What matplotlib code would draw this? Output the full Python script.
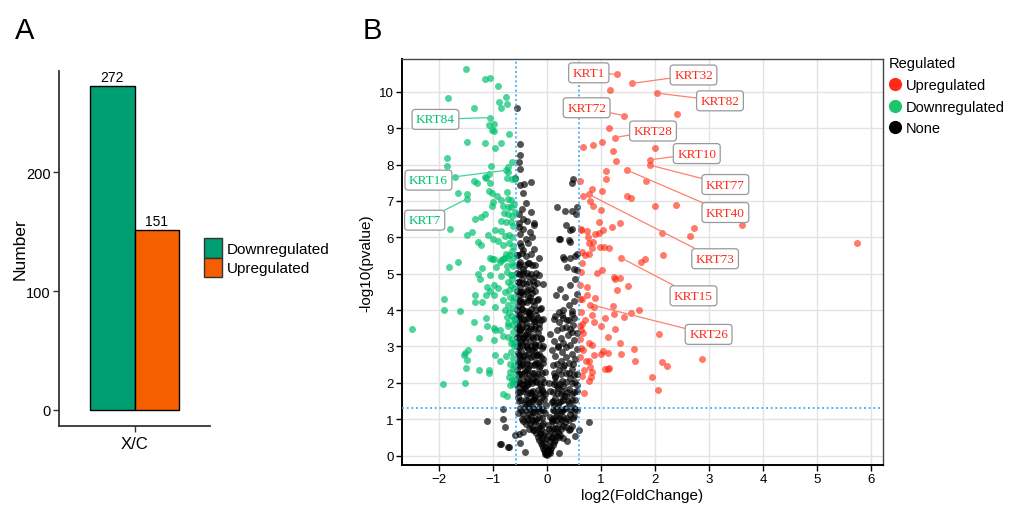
import matplotlib
matplotlib.use("Agg")
import matplotlib.pyplot as plt
from matplotlib.patches import Patch
from matplotlib.lines import Line2D

plt.rcParams['font.family'] = ['Liberation Sans', 'DejaVu Sans']

# ---------------- Panel A data ----------------
bar_groups = ["Downregulated", "Upregulated"]
bar_counts = [272, 151]
bar_colors = ["#009E73", "#F55F00"]
bar_category = "X/C"

# ---------------- Panel B data ----------------
down_x = [-1.51,-1.16,-1.06,-0.92,-1.83,-0.90,-0.76,-0.85,-0.75,-1.36,-1.06,-1.07,-0.98,-1.03,-0.98,-0.70,-1.49,-1.15,-0.96,-0.85,
          -1.85,-1.85,-1.04,-0.66,-0.77,-0.73,-0.72,-1.07,-1.16,-1.14,-1.70,-1.36,-1.30,-0.75,-0.65,-0.59,-1.06,-1.08,-1.03,-0.75,
          -0.93,-1.65,-1.49,-1.48,-1.01,-0.85,-0.73,-0.67,-0.82,-0.72,-0.67,-0.62,-1.03,-0.80,-0.73,-0.65,-1.15,-1.22,-1.33,-0.86,
          -0.77,-0.68,-0.64,-1.80,-1.49,-1.40,-1.10,-0.96,-0.86,-0.79,-0.70,-1.00,-0.92,-0.65,-1.29,-1.23,-0.81,-0.70,-1.65,-1.06,
          -0.80,-0.71,-0.65,-0.86,
          -1.82,-1.29,-1.21,-1.25,-1.06,-1.03,-0.98,-0.88,-0.82,-0.72,-0.76,-0.94,-0.85,-0.75,-0.72,-0.65,-0.98,-0.92,-1.12,-1.06,
          -1.14,-1.34,-1.92,-1.92,-1.62,-1.33,-1.21,-0.98,-0.96,-0.78,-0.69,-0.81,-0.73,-0.79,-0.70,-0.64,-0.75,-0.65,-1.14,-1.36,
          -2.51,-1.26,-1.12,-0.98,-0.97,-0.87,-0.73,-0.64,-0.81,-0.72,-0.64,-0.65,-0.99,-1.47,-1.52,-1.55,-1.49,-1.51,-0.96,-0.87,
          -0.77,-0.64,-0.69,-1.26,-1.07,-1.08,-0.69,-0.64,-0.70,-0.66,-0.62,-0.64,-0.69,-1.93,-1.53,-0.81,-0.75,
          -0.62,-0.63,-0.61,-0.68,-0.61,-0.66,-0.60,-0.62,-0.67,-0.61,-0.63,-0.60,
          -0.62,-0.67,-0.71,-0.63,-0.74,-0.68,-0.60,-0.72,-0.66,-0.61]
down_y = [10.62,10.36,10.38,10.16,9.83,9.72,9.85,9.55,9.65,9.55,9.29,9.08,9.11,8.96,8.91,8.83,8.63,8.59,8.45,8.59,
          8.17,7.96,7.95,8.07,7.84,7.92,7.79,7.74,7.66,7.64,7.67,7.55,7.49,7.64,7.61,7.61,7.49,7.28,7.22,7.25,
          7.13,7.22,7.20,7.06,6.96,7.02,7.04,7.02,6.87,6.83,6.82,6.91,6.86,6.67,6.63,6.58,6.65,6.56,6.49,6.45,
          6.41,6.42,6.31,6.22,6.06,6.14,6.06,6.19,6.17,6.04,6.06,5.96,5.90,6.01,5.87,5.78,5.78,5.83,5.32,5.44,
          5.44,5.51,5.62,5.37,
          5.17,5.00,5.16,4.86,4.97,5.41,5.41,5.32,5.39,5.43,5.53,5.17,4.94,5.05,4.77,4.86,4.70,4.61,4.63,4.51,
          4.42,4.42,4.31,4.01,3.96,4.22,4.22,4.40,4.08,4.50,4.36,4.27,4.13,3.99,3.94,4.06,3.81,3.83,3.78,3.67,
          3.49,3.23,3.56,3.51,3.44,3.44,3.56,3.58,3.28,3.26,3.39,3.21,3.17,2.91,2.83,2.75,2.63,2.40,2.75,2.61,
          2.73,2.68,2.52,2.36,2.36,2.28,2.29,2.39,2.17,2.08,2.06,1.97,1.93,1.98,1.99,1.68,1.65,
          4.60,5.20,3.00,4.70,2.50,5.30,3.70,4.35,4.95,3.10,5.75,6.70,
          3.75,3.10,4.55,4.25,5.20,2.85,2.20,3.65,4.95,5.45]

up_x = [1.29,1.57,1.17,2.04,2.40,1.43,1.15,1.25,0.66,0.84,1.01,2.00,1.22,1.27,1.91,1.91,1.08,1.47,1.08,1.83,
        0.61,0.83,0.77,0.67,1.01,1.48,1.55,0.80,0.85,0.99,2.00,2.39,0.96,1.34,1.20,1.04,2.71,3.61,0.73,0.62,
        0.88,0.95,2.12,2.64,0.76,0.85,0.77,0.98,1.06,1.14,0.83,5.73,
        0.70,0.78,0.65,0.62,1.36,1.74,1.81,2.15,0.92,1.02,1.23,1.26,1.34,1.30,1.49,0.73,0.65,0.61,
        0.73,0.89,0.80,0.86,1.21,1.70,1.56,1.43,1.23,1.07,0.83,0.86,0.70,0.99,0.60,0.62,1.26,0.67,1.12,2.07,
        0.78,0.83,1.35,1.60,0.66,1.36,1.12,0.99,1.04,0.86,1.62,2.86,0.72,0.77,2.12,2.22,0.80,1.07,1.12,1.15,
        0.68,0.83,0.65,1.94,0.81,0.78,0.68,2.06,
        0.62,0.64,0.61,0.63,0.60,0.62,0.65,0.61]
up_y = [10.48,10.23,10.06,9.96,9.39,9.34,9.01,8.74,8.49,8.53,8.61,8.46,8.38,8.09,8.13,7.98,7.83,7.85,7.59,7.54,
        7.54,7.34,7.18,7.13,7.27,7.13,7.09,7.00,6.85,6.76,6.86,6.88,6.42,6.38,6.28,6.19,6.26,6.33,6.17,6.21,
        6.10,6.13,6.13,6.04,6.01,5.87,5.83,5.73,5.73,5.71,5.71,5.83,
        5.52,5.55,5.28,5.05,5.44,5.32,5.41,5.50,5.02,5.09,4.91,4.84,4.88,4.54,4.65,4.63,4.31,4.31,
        4.42,4.33,4.15,4.08,4.10,3.99,3.92,3.81,3.90,3.77,3.87,3.67,3.72,3.55,3.56,3.44,3.48,3.38,3.25,3.34,
        3.10,3.03,3.09,2.93,2.89,2.79,2.83,2.79,2.86,2.75,2.61,2.65,2.59,2.59,2.56,2.47,2.43,2.39,2.37,2.41,
        2.36,2.31,2.18,2.15,2.16,2.06,1.72,1.79,
        6.24,5.60,4.70,3.95,3.20,2.95,3.62,2.70]

none_x = [0.00,-0.02,0.02,-0.04,0.03,0.05,-0.06,0.00,-0.08,0.07,-0.03,0.04,-0.10,0.10,0.01,-0.01,0.06,-0.05,
          -0.12,0.12,-0.06,0.05,-0.15,0.15,-0.02,-0.10,0.09,-0.18,0.18,0.02,-0.13,0.13,-0.07,0.24,
          -0.20,0.20,-0.04,0.07,-0.24,0.25,-0.12,0.14,-0.28,0.30,-0.18,0.02,-0.32,0.22,-0.08,0.33,-0.25,0.11,-0.36,0.27,-0.44,0.40,-0.40,0.45,0.52,-0.50,0.36,
          -0.38,0.36,-0.15,0.05,-0.30,0.18,-0.45,0.42,-0.05,-0.22,0.28,-0.40,0.10,-0.12,0.35,-0.50,0.48,-0.28,0.20,-0.02,-0.42,0.40,-0.18,0.08,-0.35,0.30,-0.55,0.55,0.50,
          -0.48,0.45,-0.25,0.15,-0.10,-0.55,0.35,-0.38,0.25,-0.05,-0.30,0.50,-0.50,0.05,-0.18,0.40,-0.42,0.20,-0.55,0.30,-0.12,0.55,-0.35,0.12,-0.22,-0.45,0.45,
          -0.52,-0.30,0.28,-0.45,-0.10,0.42,-0.38,0.15,-0.55,-0.20,0.50,-0.48,0.35,-0.28,-0.05,-0.42,0.22,-0.56,0.45,-0.15,-0.35,0.30,-0.50,0.10,-0.25,
          -0.45,0.40,-0.20,-0.55,0.25,-0.38,0.52,-0.08,-0.50,0.35,-0.30,0.15,-0.42,-0.15,0.45,-0.55,0.28,-0.25,-0.48,0.08,-0.35,0.55,-0.10,-0.52,0.20,
          -0.40,0.42,-0.22,-0.55,0.30,-0.48,0.12,-0.32,0.50,-0.12,-0.45,0.25,-0.56,-0.28,0.38,-0.42,0.05,-0.18,-0.52,0.45,-0.35,0.18,-0.50,-0.25,0.55,
          -0.46,0.35,-0.30,-0.55,0.48,-0.15,-0.40,0.22,-0.52,-0.25,0.40,-0.45,-0.08,0.30,-0.35,-0.56,0.15,-0.20,-0.48,0.45,-0.32,-0.53,0.27,0.21,
          -0.47,-0.35,-0.25,-0.38,-0.50,-0.31,-0.44,-0.35,0.41,0.33,0.16,-0.55,-0.18,0.50,-0.52,0.55,-0.12,
          -0.51,-0.25,-0.07,-0.39,-0.47,-0.25,-0.35,0.43,0.24,-0.55,-0.30,0.52,-0.53,-0.15,
          -0.44,-0.28,-0.50,-0.16,-0.39,-0.56,-0.45,-0.25,-0.50,-0.35,-0.40,-0.28,0.36,0.49,0.56,0.31,0.43,0.52,0.56,0.43,0.23,0.29,0.40,0.21,-0.53,-0.48,
          -0.51,-0.31,-0.44,-0.53,-0.25,-0.38,-0.45,-0.53,-0.30,-0.47,-0.39,0.46,0.35,0.54,0.56,0.46,0.33,0.19,0.43,-0.52,-0.25,
          -0.44,-0.30,-0.50,-0.43,-0.59,-0.51,-0.53,-0.51,-0.51,-0.56,0.46,0.47,
          -1.12,-0.81,-0.81,-0.78,-0.85,-0.70,-0.41,-0.53,0.77,-0.87,-0.72,0.22,-0.59,0.58,
          -0.33,-0.27,-0.43,-0.21,-0.37,-0.47,-0.29,-0.41,-0.53,-0.23,-0.34,-0.46,-0.17,-0.39,-0.31,-0.49,-0.26,-0.44,-0.36,-0.22,-0.52,-0.40,-0.30,-0.45,-0.19,-0.35,
          -0.14,-0.09,0.04,0.09,-0.20,0.16,-0.26,0.21,-0.33,0.26,-0.16,0.12,-0.23,0.31,-0.09,0.19,-0.37,0.03,-0.27,0.14,
          -0.34,-0.16,-0.26, -0.46,-0.28,-0.10,-0.20, -0.48,-0.32,-0.16,-0.07,-0.25, -0.52,-0.40,-0.14,-0.29,-0.06,
          -0.54,-0.44,-0.34,-0.26,-0.14,-0.07, -0.56,-0.47,-0.38,-0.29,-0.20,-0.13,-0.06, -0.53,-0.43,-0.33,-0.24,-0.17,-0.09,
          -0.55,-0.46,-0.38,-0.31,-0.22,-0.14,-0.07, -0.52,-0.44,-0.35,-0.27,-0.19,-0.11, -0.56,-0.47,-0.38,-0.30,-0.22,-0.15,-0.08,
          -0.53,-0.44,-0.36,-0.27,-0.20,-0.12, -0.56,-0.48,-0.39,-0.31,-0.23,-0.15, -0.53,-0.43,-0.34,-0.27,-0.18,-0.11,
          -0.56,-0.47,-0.39,-0.30,-0.21,-0.14, -0.53,-0.44,-0.34,-0.27,-0.19, -0.56,-0.48,-0.40,-0.29,-0.22,
          -0.53,-0.44,-0.33,-0.19, -0.56,-0.46,-0.38,-0.30,-0.21, -0.52,-0.42,-0.34,-0.22, -0.55,-0.46,-0.30,
          0.08,0.22,0.30, 0.10,0.19,0.35,0.42, 0.08,0.16,0.24,0.40,0.47, 0.12,0.25,0.32,0.44,0.52, 0.11,0.22,0.30,0.38,0.52,
          0.10,0.18,0.28,0.36,0.55, 0.15,0.23,0.34,0.45,0.52, 0.12,0.26,0.40,0.55, 0.18,0.32,0.48, 0.20,0.35, 0.28,0.42,
          0.12,0.36,0.50, 0.30,0.46]
none_y = [0.02,0.05,0.06,0.10,0.11,0.15,0.16,0.13,0.22,0.21,0.24,0.27,0.28,0.30,0.19,0.09,0.08,0.04,
          0.34,0.36,0.38,0.40,0.42,0.44,0.45,0.48,0.50,0.52,0.54,0.55,0.58,0.59,0.56,0.57,
          0.62,0.64,0.66,0.68,0.70,0.72,0.74,0.76,0.78,0.80,0.82,0.84,0.86,0.88,0.90,0.92,0.94,0.96,0.98,0.99,0.64,0.70,0.88,0.82,0.55,0.35,0.40,
          1.02,1.04,1.05,1.07,1.10,1.12,1.14,1.15,1.17,1.20,1.22,1.24,1.26,1.28,1.30,1.32,1.34,1.36,1.38,1.40,1.42,1.44,1.46,1.48,1.49,1.05,1.18,1.25,1.08,
          1.52,1.54,1.56,1.58,1.60,1.62,1.64,1.66,1.68,1.70,1.72,1.74,1.76,1.78,1.80,1.82,1.84,1.86,1.88,1.90,1.92,1.94,1.96,1.98,1.65,1.95,1.70,
          2.02,2.04,2.06,2.08,2.10,2.12,2.14,2.16,2.18,2.20,2.22,2.24,2.26,2.28,2.30,2.32,2.34,2.36,2.38,2.40,2.42,2.44,2.46,2.48,2.49,
          2.52,2.54,2.56,2.58,2.60,2.62,2.64,2.66,2.68,2.70,2.72,2.74,2.76,2.78,2.80,2.82,2.84,2.86,2.88,2.90,2.92,2.94,2.96,2.98,2.97,
          3.02,3.04,3.06,3.08,3.10,3.12,3.14,3.16,3.18,3.20,3.22,3.24,3.26,3.28,3.30,3.32,3.34,3.36,3.38,3.40,3.42,3.44,3.46,3.48,3.36,
          3.52,3.54,3.56,3.58,3.60,3.62,3.64,3.66,3.68,3.70,3.72,3.74,3.76,3.78,3.80,3.82,3.84,3.86,3.88,3.90,3.92,3.85,3.85,3.94,
          4.04,3.94,4.13,4.22,4.27,4.36,4.45,4.54,4.13,4.36,4.40,4.10,4.30,4.25,4.40,4.45,4.05,
          4.63,4.68,4.72,4.72,4.86,4.91,4.94,4.68,4.59,4.78,4.58,4.85,5.00,4.95,
          5.14,5.23,5.32,5.43,5.49,5.50,5.64,5.69,5.83,5.83,5.96,6.01,5.18,5.14,5.09,5.41,5.43,5.49,5.55,5.87,5.96,5.46,5.92,5.96,5.20,5.75,
          6.10,6.15,6.24,6.38,6.40,6.44,6.51,6.65,6.70,6.79,6.93,6.24,6.33,6.65,6.83,6.72,6.72,6.83,6.21,6.28,6.33,
          7.22,7.52,7.43,7.46,7.63,7.89,8.07,8.26,8.55,9.56,7.50,7.59,
          0.96,1.28,1.01,0.78,0.32,0.23,0.11,0.60,0.92,0.32,0.23,0.07,0.57,0.69,
          1.15,1.55,1.85,2.05,2.35,2.65,2.90,3.15,3.45,3.70,3.95,4.20,2.55,3.35,3.85,4.50,4.80,5.05,5.30,3.05,2.25,1.35,1.75,0.95,2.75,4.35,
          0.62,0.85,0.72,0.95,1.00,1.10,1.20,1.25,1.45,1.50,1.30,1.40,1.60,1.65,1.80,1.90,1.95,2.00,2.10,2.20,
          0.74,0.77,0.71, 1.01,0.98,1.03,0.96, 1.24,1.27,1.22,1.26,1.29, 1.50,1.53,1.47,1.51,1.55,
          1.74,1.77,1.73,1.78,1.72,1.76, 2.00,1.97,2.03,1.99,2.02,1.96,2.01, 2.25,2.28,2.22,2.26,2.23,2.27,
          2.51,2.48,2.53,2.49,2.52,2.47,2.54, 2.76,2.73,2.78,2.74,2.77,2.72, 3.00,3.03,2.98,3.02,2.99,3.04,3.01,
          3.26,3.23,3.28,3.24,3.27,3.22, 3.51,3.49,3.53,3.48,3.52,3.50, 3.76,3.73,3.78,3.74,3.77,3.72,
          4.00,4.03,3.98,4.02,3.99,4.04, 4.26,4.23,4.28,4.24,4.27, 4.51,4.49,4.53,4.48,4.52,
          4.76,4.73,4.78,4.74, 5.01,4.98,5.03,4.99,5.02, 5.26,5.23,5.28,5.24, 5.51,5.56,5.53,
          0.49,0.52,0.47, 0.76,0.73,0.78,0.74, 1.01,0.98,1.03,0.97,1.02, 1.26,1.23,1.28,1.24,1.27, 1.51,1.48,1.53,1.49,1.52,
          1.76,1.73,1.78,1.74,1.77, 2.01,1.98,2.03,1.99,2.02, 2.26,2.23,2.28,2.24, 2.51,2.48,2.53, 3.01,2.98, 3.51,3.48,
          3.76,3.73,3.78, 4.01,3.98]

# Labelled genes: name, log2FC, -log10(p), group
genes = ["KRT1", "KRT32", "KRT82", "KRT72", "KRT28", "KRT10", "KRT77", "KRT40",
         "KRT73", "KRT15", "KRT26", "KRT84", "KRT16", "KRT7"]
gene_x = [1.29, 1.57, 2.04, 1.43, 1.25, 1.91, 1.91, 1.47, 0.77, 1.36, 0.80, -1.06, -0.77, -1.48]
gene_y = [10.48, 10.23, 9.96, 9.34, 8.74, 8.13, 7.98, 7.85, 7.18, 5.44, 4.15, 9.29, 7.84, 7.06]
gene_group = ["Up"] * 11 + ["Down"] * 3
# label box positions (layout)
label_pos = [(0.77, 10.52), (2.71, 10.46), (3.20, 9.75), (0.73, 9.56), (1.96, 8.92),
             (2.77, 8.30), (3.30, 7.45), (3.30, 6.68), (3.11, 5.41), (2.71, 4.39),
             (2.99, 3.33), (-2.07, 9.24), (-2.20, 7.57), (-2.27, 6.47)]

W, H = 1015, 506
fig = plt.figure(figsize=(W / 100, H / 100), dpi=100)

# ---------------- Panel A ----------------
axA = fig.add_axes([59 / W, 1 - 427 / H, (210 - 59) / W, (427 - 72) / H])
bw = 0.353
offs = [-bw / 2, bw / 2]
for g, c, col, o in zip(bar_groups, bar_counts, bar_colors, offs):
    axA.bar(o, c, width=bw, color=col, edgecolor="black", linewidth=1.0)
    axA.text(o, c + 2, str(c), ha="center", va="bottom", fontsize=10)
axA.set_xlim(-0.6, 0.6)
axA.set_ylim(-13.5, 285)
axA.set_yticks([0, 100, 200])
axA.set_xticks([0])
axA.set_xticklabels([bar_category], fontsize=12)
axA.tick_params(axis="y", labelsize=10.5, length=4, width=1, color="#333333", pad=2)
axA.tick_params(axis="x", length=4, width=1, color="#333333", pad=3)
for s in ["top", "right"]:
    axA.spines[s].set_visible(False)
for s in ["left", "bottom"]:
    axA.spines[s].set_linewidth(1.3)
    axA.spines[s].set_color("#333333")
axA.set_ylabel("Number", fontsize=12.5, labelpad=-1.5)
handlesA = [Patch(facecolor=c, edgecolor="#333333", linewidth=1.0) for c in bar_colors]
fig.legend(handlesA, bar_groups, loc="upper left", bbox_to_anchor=(204 / W, 1 - 239 / H),
           frameon=False, fontsize=11, handlelength=1.2, handleheight=1.6,
           handletextpad=0.3, labelspacing=0.0, borderpad=0, borderaxespad=0)

# ---------------- Panel B ----------------
axB = fig.add_axes([402 / W, 1 - 466 / H, (883 - 402) / W, (466 - 60) / H])
axB.set_xlim(-2.69, 6.22)
axB.set_ylim(-0.26, 10.9)
axB.set_xticks(range(-2, 7))
axB.set_yticks(range(0, 11))
axB.grid(True, color="#E3E3E3", linewidth=1.0)
axB.set_axisbelow(True)

c_up, c_down, c_none = "#FF2107", "#00C26F", "#000000"
axB.scatter(none_x, none_y, s=25, color=c_none, alpha=0.68, linewidths=0, zorder=2)
axB.scatter(down_x, down_y, s=25, color=c_down, alpha=0.7, linewidths=0, zorder=3)
axB.scatter(up_x, up_y, s=25, color=c_up, alpha=0.6, linewidths=0, zorder=3)

axB.axvline(-0.585, color="#3FA9F5", linestyle=(0, (1.2, 1.6)), linewidth=1.2, zorder=4)
axB.axvline(0.585, color="#3FA9F5", linestyle=(0, (1.2, 1.6)), linewidth=1.2, zorder=4)
axB.axhline(1.301, color="#3FA9F5", linestyle=(0, (1.2, 1.6)), linewidth=1.2, zorder=4)

for name, gx, gy, grp, lp in zip(genes, gene_x, gene_y, gene_group, label_pos):
    tc = "#FF2A1A" if grp == "Up" else "#00C070"
    lc = "#FF8070" if grp == "Up" else "#40D49A"
    axB.annotate(name, xy=(gx, gy), xytext=lp, ha="center", va="center",
                 fontsize=9.5, color=tc, family=["Liberation Serif", "DejaVu Serif"],
                 bbox=dict(boxstyle="round,pad=0.3,rounding_size=0.25", fc="white", ec="#999999", lw=0.9),
                 arrowprops=dict(arrowstyle="-", color=lc, lw=0.9, shrinkA=0, shrinkB=2),
                 zorder=6)

axB.tick_params(axis="both", labelsize=9.5, length=4, width=1, pad=2)
for s in ["left", "bottom"]:
    axB.spines[s].set_linewidth(1.4)
    axB.spines[s].set_color("black")
for s in ["top", "right"]:
    axB.spines[s].set_linewidth(1.0)
    axB.spines[s].set_color("#444444")
axB.set_xlabel("log2(FoldChange)", fontsize=11, labelpad=2)
axB.set_ylabel("-log10(pvalue)", fontsize=11, labelpad=4)

handlesB = [Line2D([], [], marker="o", linestyle="", markersize=9.5, markerfacecolor=c,
                   markeredgewidth=0) for c in ["#FF2A1A", "#1DC46B", "#000000"]]
legB = fig.legend(handlesB, ["Upregulated", "Downregulated", "None"], title="Regulated",
                  loc="upper left", bbox_to_anchor=(889 / W, 1 - 57 / H), frameon=False,
                  fontsize=10.5, title_fontsize=10.5, handlelength=0.8, handletextpad=0.35,
                  labelspacing=0.5, borderpad=0, borderaxespad=0, alignment="left")
legB._legend_box.sep = 6

# Panel letters
fig.text(15 / W, 1 - 39 / H, "A", fontsize=21, ha="left", va="baseline")
fig.text(363 / W, 1 - 39 / H, "B", fontsize=21, ha="left", va="baseline")

fig.savefig("out.png", dpi=100)
